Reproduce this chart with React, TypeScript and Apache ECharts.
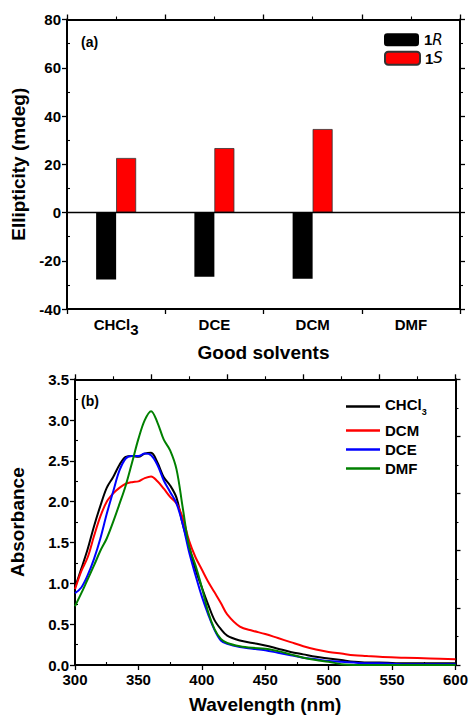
import React, { useEffect, useRef } from "react";
import * as echarts from "echarts";

// (a) CD ellipticity per good solvent
const solvents = ["CHCl3", "DCE", "DCM", "DMF"];
const ellipticityR = [-27.8, -26.6, -27.5, null];
const ellipticityS = [22.6, 26.7, 34.6, null];

// (b) UV-vis absorbance spectra
const wavelengths = [
  300, 305, 310, 315, 320, 325, 330, 335, 340, 345, 350, 355, 360, 365, 370, 375, 380, 385, 390, 395,
  400, 405, 410, 415, 420, 430, 440, 450, 460, 470, 480, 490, 500, 510, 520, 530, 540, 560, 580, 600,
];
const absCHCl3 = [
  0.95, 1.18, 1.42, 1.7, 1.95, 2.17, 2.3, 2.45, 2.55, 2.56, 2.55, 2.59, 2.6, 2.48, 2.3, 2.2, 2.05, 1.72, 1.45, 1.17,
  0.95, 0.74, 0.55, 0.44, 0.36, 0.3, 0.27, 0.24, 0.2, 0.16, 0.13, 0.1, 0.08, 0.06, 0.04, 0.03, 0.03, 0.02, 0.02, 0.02,
];
const absDCM = [
  0.93, 1.15, 1.32, 1.58, 1.82, 2.0, 2.1, 2.17, 2.22, 2.24, 2.25, 2.29, 2.31, 2.25, 2.16, 2.06, 1.98, 1.8, 1.52, 1.32,
  1.17, 1.02, 0.89, 0.76, 0.62, 0.47, 0.42, 0.38, 0.33, 0.28, 0.23, 0.19, 0.16, 0.14, 0.12, 0.11, 0.1, 0.09, 0.08, 0.07,
];
const absDCE = [
  0.88, 0.95, 1.1, 1.3, 1.55, 1.85, 2.12, 2.38, 2.53, 2.56, 2.56, 2.59, 2.57, 2.45, 2.26, 2.12, 1.98, 1.72, 1.38, 1.1,
  0.84, 0.62, 0.43, 0.3, 0.26, 0.22, 0.2, 0.18, 0.15, 0.12, 0.09, 0.07, 0.05, 0.04, 0.03, 0.02, 0.02, 0.01, 0.01, 0.01,
];
const absDMF = [
  0.72, 0.88, 1.05, 1.22, 1.4, 1.55, 1.75, 1.97, 2.2, 2.48, 2.77, 3.0, 3.11, 2.97, 2.76, 2.63, 2.4, 1.92, 1.45, 1.22,
  0.95, 0.65, 0.44, 0.32, 0.27, 0.23, 0.21, 0.2, 0.17, 0.13, 0.09, 0.06, 0.04, 0.01, 0.0, 0.0, 0.0, 0.0, 0.0, 0.0,
];

const FONT = '"Liberation Sans", Arial, sans-serif';
const AXIS_LINE = { show: true, onZero: false, lineStyle: { color: "#000", width: 2 } };
const MAJOR_TICK = { show: true, length: 5, lineStyle: { color: "#000", width: 1.3 } };
const MINOR_TICK = { show: true, splitNumber: 2, length: 3, lineStyle: { color: "#000", width: 1.1 } };

const pairs = (ys: number[]) => wavelengths.map((w, i) => [w, ys[i]]);

// top / right edges of each panel: line plus outward ticks, no labels
const frameAxis = (extra: any) => ({
  axisLine: AXIS_LINE,
  axisLabel: { show: false },
  splitLine: { show: false },
  axisTick: MAJOR_TICK,
  minorTick: MINOR_TICK,
  ...extra,
});

// copy of an axis that only draws minor ticks pointing into the plot
const innerMinor = (extra: any) => ({
  axisLine: { show: false, onZero: false },
  axisLabel: { show: false },
  splitLine: { show: false },
  axisTick: { show: false, inside: true },
  minorTick: MINOR_TICK,
  ...extra,
});

export default function App() {
  const ref = useRef<HTMLDivElement>(null);

  useEffect(() => {
    if (!ref.current) return;
    const chart = echarts.init(ref.current, null, { renderer: "svg" });

    const labelStyle = { color: "#000", fontFamily: FONT, fontWeight: "bold" as const, fontSize: 15 };
    const nameStyle = { color: "#000", fontFamily: FONT, fontWeight: "bold" as const, fontSize: 19 };

    const lineSeries = (name: string, color: string, ys: number[]) => ({
      name,
      type: "line",
      xAxisIndex: 2,
      yAxisIndex: 3,
      data: pairs(ys),
      smooth: 0.35,
      symbol: "none",
      lineStyle: { color, width: 2 },
      itemStyle: { color },
    });

    const lineLegend = (name: string, top: number) => ({
      data: [name],
      left: 346,
      top,
      padding: 0,
      icon: "rect",
      itemWidth: 34,
      itemHeight: 2.5,
      textStyle: {
        ...labelStyle,
        rich: {
          m: { fontFamily: FONT, fontWeight: "bold", fontSize: 15, color: "#000", verticalAlign: "top" },
          s: { fontFamily: FONT, fontWeight: "bold", fontSize: 9, color: "#000", verticalAlign: "top", padding: [10, 0, 0, 0] },
        },
      },
      formatter: (n: string) => (n === "CHCl3" ? "{m|CHCl}{s|3}" : n),
    });

    const barLegend = (name: string, top: number) => ({
      data: [name],
      left: 384,
      top,
      padding: 0,
      itemWidth: 35,
      itemHeight: 13,
      textStyle: {
        ...labelStyle,
        rich: {
          n: { fontFamily: FONT, fontWeight: "bold", fontSize: 15, color: "#000" },
          i: { fontFamily: '"DejaVu Sans", sans-serif', fontStyle: "italic", fontWeight: "normal", fontSize: 15, color: "#000" },
        },
      },
      formatter: (n: string) => `{n|1}{i|${n.slice(1)}}`,
    });

    chart.setOption({
      animation: false,
      backgroundColor: "#fff",
      grid: [
        { left: 67, top: 19.5, width: 393, height: 289.5 },
        { left: 67, top: 379.3, width: 393, height: 289 },
      ],
      legend: [
        barLegend("1R", 32.2),
        barLegend("1S", 50.8),
        lineLegend("CHCl3", 397),
        lineLegend("DCM", 423),
        lineLegend("DCE", 442),
        lineLegend("DMF", 461),
      ],
      graphic: [
        { type: "text", left: 81, top: 35, style: { text: "(a)", font: `bold 14px ${FONT}`, fill: "#000" } },
        { type: "text", left: 81, top: 394, style: { text: "(b)", font: `bold 14px ${FONT}`, fill: "#000" } },
      ],
      xAxis: [
        {
          type: "category",
          gridIndex: 0,
          position: "bottom",
          data: solvents,
          axisLine: AXIS_LINE,
          axisTick: MAJOR_TICK,
          splitLine: { show: false },
          axisLabel: {
            ...labelStyle,
            interval: 0,
            margin: 8,
            formatter: (v: string) => (v === "CHCl3" ? "{m|CHCl}{s|3}" : `{m|${v}}`),
            rich: {
              m: { fontFamily: FONT, fontWeight: "bold", fontSize: 15, color: "#000", verticalAlign: "top" },
              s: { fontFamily: FONT, fontWeight: "bold", fontSize: 15, color: "#000", verticalAlign: "top", padding: [5, 0, 0, 0] },
            },
          },
          name: "Good solvents",
          nameLocation: "middle",
          nameGap: 34,
          nameTextStyle: nameStyle,
        },
        frameAxis({ type: "value", gridIndex: 0, position: "top", min: 0, max: 8, interval: 2 }),
        {
          type: "value",
          gridIndex: 1,
          position: "bottom",
          min: 300,
          max: 600,
          interval: 50,
          axisLine: AXIS_LINE,
          splitLine: { show: false },
          axisTick: MAJOR_TICK,
          axisLabel: { ...labelStyle, margin: 7 },
          name: "Wavelength (nm)",
          nameLocation: "middle",
          nameGap: 30,
          nameTextStyle: nameStyle,
        },
        frameAxis({ type: "value", gridIndex: 1, position: "top", min: 300, max: 600, interval: 60 }),
        innerMinor({ type: "value", gridIndex: 1, position: "bottom", min: 300, max: 600, interval: 50 }),
      ],
      yAxis: [
        {
          type: "value",
          gridIndex: 0,
          position: "left",
          min: -40,
          max: 80,
          interval: 20,
          axisLine: AXIS_LINE,
          splitLine: { show: false },
          axisTick: MAJOR_TICK,
          axisLabel: { ...labelStyle, margin: 6 },
          name: "Ellipticity (mdeg)",
          nameLocation: "middle",
          nameRotate: 90,
          nameGap: 35,
          nameTextStyle: nameStyle,
        },
        innerMinor({ type: "value", gridIndex: 0, position: "left", min: -40, max: 80, interval: 20 }),
        frameAxis({ type: "value", gridIndex: 0, position: "right", min: -40, max: 80, interval: 20 }),
        {
          type: "value",
          gridIndex: 1,
          position: "left",
          min: 0,
          max: 3.5,
          interval: 0.5,
          axisLine: AXIS_LINE,
          splitLine: { show: false },
          axisTick: MAJOR_TICK,
          axisLabel: { ...labelStyle, margin: 6, formatter: (v: number) => v.toFixed(1) },
          name: "Absorbance",
          nameLocation: "middle",
          nameRotate: 90,
          nameGap: 48,
          nameTextStyle: nameStyle,
        },
        innerMinor({ type: "value", gridIndex: 1, position: "left", min: 0, max: 3.5, interval: 0.5 }),
        frameAxis({ type: "value", gridIndex: 1, position: "right", min: 0, max: 3.5, interval: 0.7 }),
      ],
      series: [
        {
          name: "1R",
          type: "bar",
          xAxisIndex: 0,
          yAxisIndex: 0,
          data: ellipticityR,
          barWidth: 20,
          barGap: "0%",
          itemStyle: { color: "#000" },
          markLine: {
            silent: true,
            symbol: "none",
            label: { show: false },
            lineStyle: { color: "#000", type: "solid", width: 1.3 },
            data: [{ yAxis: 0 }],
          },
        },
        {
          name: "1S",
          type: "bar",
          xAxisIndex: 0,
          yAxisIndex: 0,
          data: ellipticityS,
          barWidth: 20,
          barGap: "0%",
          itemStyle: { color: "#ff0000", borderColor: "#333", borderWidth: 0.8 },
        },
        lineSeries("CHCl3", "#000000", absCHCl3),
        lineSeries("DCM", "#ff0000", absDCM),
        lineSeries("DCE", "#0000ff", absDCE),
        lineSeries("DMF", "#008000", absDMF),
      ],
    });

    return () => chart.dispose();
  }, []);

  return <div ref={ref} style={{ position: "absolute", left: 0, top: 0, width: 471, height: 715 }} />;
}
